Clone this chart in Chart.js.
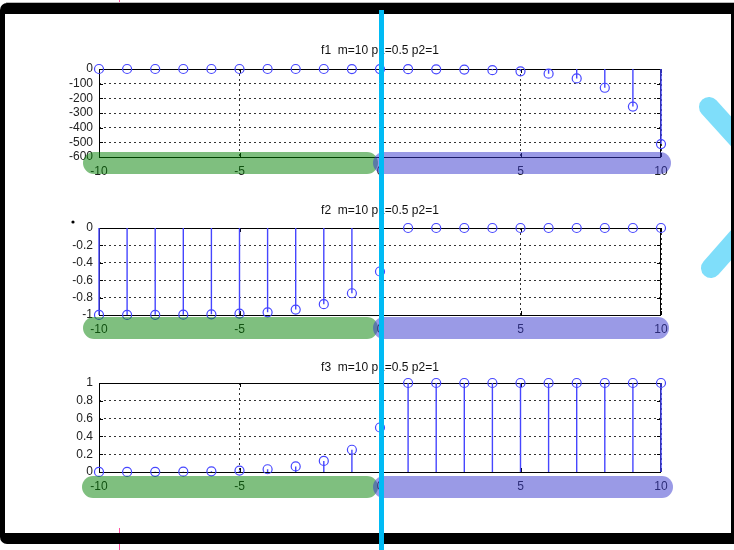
<!DOCTYPE html>
<html>
<head>
<meta charset="utf-8">
<script src="https://cdn.jsdelivr.net/npm/chart.js@4"></script>
<style>
  html, body { margin: 0; padding: 0; background: #fff; }
  #wrap { position: relative; width: 734px; height: 550px; overflow: hidden; }
  #wrap canvas { position: absolute; left: 0; top: 0; }
  #marks { pointer-events: none; }
</style>
</head>
<body>
<div id="wrap">
  <canvas id="c1" width="734" height="550"></canvas>
  <canvas id="c2" width="734" height="550"></canvas>
  <canvas id="c3" width="734" height="550"></canvas>
  <canvas id="marks" width="734" height="550"></canvas>
</div>
<script>
// sample positions
const xs = [-10, -9, -8, -7, -6, -5, -4, -3, -2, -1, 0, 1, 2, 3, 4, 5, 6, 7, 8, 9, 10];

// f1, f2, f3 values
const f1 = [-0.0005, -0.001, -0.002, -0.004, -0.008, -0.016, -0.031, -0.063, -0.125, -0.25, -0.5,
            -1, -2, -4, -8, -16, -32, -64, -128, -256, -512];
const f2 = [-0.9995, -0.999, -0.998, -0.996, -0.992, -0.984, -0.969, -0.938, -0.875, -0.75, -0.5,
            0, 0, 0, 0, 0, 0, 0, 0, 0, 0];
const f3 = [0.0005, 0.001, 0.002, 0.004, 0.008, 0.016, 0.031, 0.063, 0.125, 0.25, 0.5,
            1, 1, 1, 1, 1, 1, 1, 1, 1, 1];

const titles = ['f1  m=10 p1=0.5 p2=1', 'f2  m=10 p1=0.5 p2=1', 'f3  m=10 p1=0.5 p2=1'];
const xTicks = [-10, -5, 0, 5, 10];

const stemColor = 'rgb(70, 70, 255)';
const font = '"Liberation Sans", Arial, sans-serif';

function makePanel(id, values, title, yMin, yMax, yStep, top, bottom, titleY) {
    const ctx = document.getElementById(id).getContext('2d');

    // stems + box drawn under the circle markers
    const stems = {
        id: 'stems',
        beforeDatasetsDraw(chart) {
            const c = chart.ctx;
            const a = chart.chartArea;
            const sx = chart.scales.x, sy = chart.scales.y;
            c.save();
            // box
            c.strokeStyle = '#000';
            c.lineWidth = 1;
            c.strokeRect(Math.round(a.left) + 0.5, Math.round(a.top) + 0.5,
                         Math.round(a.right - a.left) - 1, Math.round(a.bottom - a.top));
            // inward tick marks
            c.beginPath();
            sx.ticks.forEach(t => {
                const px = Math.round(sx.getPixelForValue(t.value)) + 0.5;
                c.moveTo(px, a.bottom); c.lineTo(px, a.bottom - 4);
                c.moveTo(px, a.top); c.lineTo(px, a.top + 4);
            });
            sy.ticks.forEach(t => {
                const py = Math.round(sy.getPixelForValue(t.value)) + 0.5;
                c.moveTo(a.left, py); c.lineTo(a.left + 4, py);
                c.moveTo(a.right, py); c.lineTo(a.right - 4, py);
            });
            c.stroke();
            // stems
            const y0 = sy.getPixelForValue(0);
            c.strokeStyle = stemColor;
            c.lineWidth = 1.4;
            c.beginPath();
            xs.forEach((x, i) => {
                const px = sx.getPixelForValue(x);
                c.moveTo(px, y0);
                c.lineTo(px, sy.getPixelForValue(values[i]));
            });
            c.stroke();
            c.restore();
        },
        afterDraw(chart) {
            const c = chart.ctx;
            const a = chart.chartArea;
            c.save();
            c.fillStyle = '#111';
            c.font = '12px ' + font;
            c.textAlign = 'center';
            c.textBaseline = 'middle';
            c.fillText(title, (a.left + a.right) / 2, titleY);
            c.restore();
        }
    };

    return new Chart(ctx, {
        type: 'scatter',
        data: {
            datasets: [{
                data: xs.map((x, i) => ({ x: x, y: values[i] })),
                pointRadius: 4.5,
                pointHoverRadius: 4.5,
                pointBorderWidth: 1.2,
                borderColor: stemColor,
                backgroundColor: 'rgba(0,0,0,0)',
                showLine: false,
                clip: false
            }]
        },
        options: {
            responsive: false,
            animation: false,
            events: [],
            layout: {
                padding: { left: 0, right: 734 - 661, top: top, bottom: 550 - bottom - 20 }
            },
            plugins: { legend: { display: false }, tooltip: { enabled: false }, title: { display: false } },
            scales: {
                x: {
                    type: 'linear',
                    min: -10, max: 10,
                    afterBuildTicks: s => { s.ticks = xTicks.map(v => ({ value: v })); },
                    afterFit: s => { s.height = 20; },
                    ticks: { color: '#222', font: { family: font, size: 12 }, padding: 7, maxRotation: 0, autoSkip: false },
                    grid: { color: '#333', lineWidth: 1, drawTicks: false },
                    border: { display: false, dash: [2, 3] }
                },
                y: {
                    min: yMin, max: yMax,
                    afterFit: s => { s.width = 99; },
                    ticks: {
                        stepSize: yStep,
                        autoSkip: false,
                        color: '#222',
                        font: { family: font, size: 12 },
                        padding: 6,
                        callback: v => String(Math.round(v * 10) / 10)
                    },
                    grid: { color: '#333', lineWidth: 1, drawTicks: false },
                    border: { display: false, dash: [2, 3] }
                }
            }
        },
        plugins: [stems]
    });
}

makePanel('c1', f1, titles[0], -600, 0, 100, 69, 157, 51);
makePanel('c2', f2, titles[1], -1, 0, 0.2, 228, 315, 211);
makePanel('c3', f3, titles[2], 0, 1, 0.2, 383, 472, 368);

// screenshot markup laid over the figure
const m = document.getElementById('marks').getContext('2d');

function pill(x0, x1, y0, y1, color) {
    const r = (y1 - y0) / 2;
    m.fillStyle = color;
    m.beginPath();
    m.moveTo(x0 + r, y0);
    m.lineTo(x1 - r, y0);
    m.arc(x1 - r, y0 + r, r, -Math.PI / 2, Math.PI / 2);
    m.lineTo(x0 + r, y1);
    m.arc(x0 + r, y0 + r, r, Math.PI / 2, Math.PI * 1.5);
    m.fill();
}

const green = 'rgba(0, 128, 0, 0.5)';
const blue = 'rgba(53, 53, 205, 0.5)';
pill(83, 378, 152, 174, green);
pill(373, 671, 152, 174, blue);
pill(83, 378, 317, 339, green);
pill(373, 669, 317, 339, blue);
pill(82, 378, 476, 498, green);
pill(373, 673, 476, 498, blue);

// small dot left of the second panel
m.fillStyle = '#000';
m.beginPath();
m.arc(73, 222, 1.6, 0, Math.PI * 2);
m.fill();

// pale cyan strokes at the right edge
m.strokeStyle = 'rgba(0, 190, 245, 0.5)';
m.lineWidth = 20;
m.lineCap = 'round';
m.beginPath();
m.moveTo(709, 107); m.lineTo(748, 150);
m.moveTo(748, 226); m.lineTo(711, 268);
m.stroke();

// pink ticks
m.fillStyle = '#ff4fa0';
m.fillRect(119, 0, 1, 5);
m.fillRect(119, 528, 1, 22);

// black frame
m.lineCap = 'butt';
m.fillStyle = '#000';
m.beginPath();
m.moveTo(0, 10);
m.arcTo(0, 3, 7, 3, 7);
m.lineTo(734, 3);
m.lineTo(734, 14);
m.lineTo(5, 14);
m.lineTo(5, 533);
m.lineTo(734, 533);
m.lineTo(734, 544);
m.lineTo(7, 544);
m.arcTo(0, 544, 0, 537, 7);
m.closePath();
m.fill();
m.fillRect(731, 3, 3, 541);
m.fillStyle = '#bbb';
m.fillRect(6, 2, 728, 1);

// cyan vertical line
m.fillStyle = '#00bbf5';
m.fillRect(379, 10, 5, 540);
</script>
</body>
</html>
